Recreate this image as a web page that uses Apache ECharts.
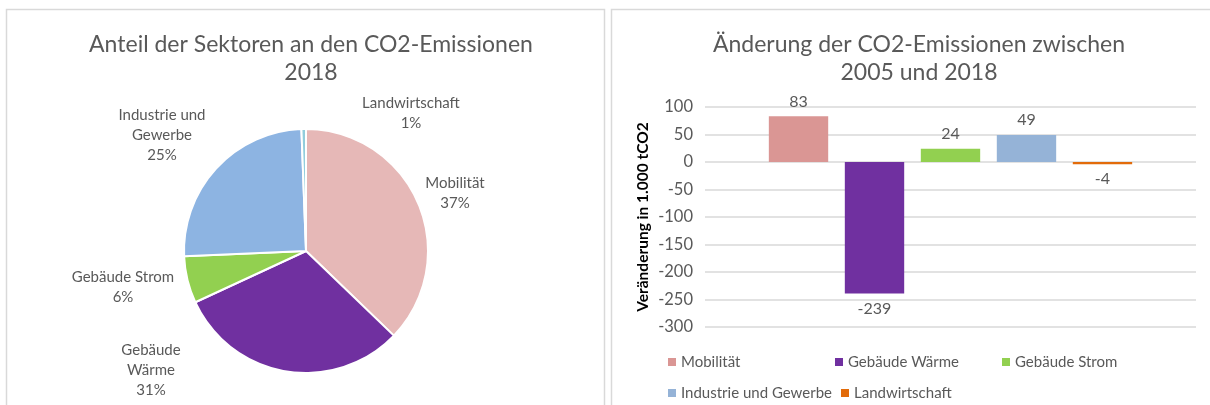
<!DOCTYPE html>
<html>
<head>
<meta charset="utf-8">
<script src="https://cdn.jsdelivr.net/npm/echarts@6/dist/echarts.min.js"></script>
<style>
  html, body { margin: 0; padding: 0; background: #fff; }
  #main { width: 1210px; height: 405px; }
</style>
</head>
<body>
<div id="main"></div>
<script>
// sectors
var sectors = ['Mobilität', 'Gebäude Wärme', 'Gebäude Strom', 'Industrie und Gewerbe', 'Landwirtschaft'];
// pie labels as wrapped in the original
var pieLabels = ['Mobilität', 'Gebäude\nWärme', 'Gebäude Strom', 'Industrie und\nGewerbe', 'Landwirtschaft'];
// share of emissions 2018 (%)
var share2018 = [37.2, 30.9, 6.2, 25.1, 0.6];
// change 2005 -> 2018 (1.000 tCO2)
var change = [83, -239, 24, 49, -4];
// y axis ticks
var yMin = -300, yMax = 100, yStep = 50;

var pieColors = ['#E6B8B7', '#7030A0', '#92D050', '#8DB4E2', '#92CDDC'];
var barColors = ['#DA9694', '#7030A0', '#92D050', '#95B3D7', '#E26B0A'];

// where Excel put the pie labels (label centers)
var pieLabelSpots = [[455, 193], [151, 370], [123, 287], [162, 135], [411, 113]];

var FONT = 'Lato, "Noto Sans", sans-serif';
var GREY = '#595959';

var myChart = echarts.init(document.getElementById('main'));

var barSeries = sectors.map(function (name, i) {
    return {
        name: name,
        type: 'bar',
        barGap: '28%',
        barCategoryGap: '26%',
        itemStyle: { color: barColors[i] },
        label: {
            show: true,
            distance: 7,
            color: GREY,
            fontFamily: FONT,
            fontSize: 16
        },
        data: [{
            value: change[i],
            label: { position: change[i] >= 0 ? 'top' : 'bottom' }
        }]
    };
});

var option = {
    animation: false,
    backgroundColor: '#fff',
    textStyle: { fontFamily: FONT },
    graphic: [
        {
            type: 'rect',
            shape: { x: 6.5, y: 9.5, width: 598, height: 420 },
            style: { fill: 'none', stroke: '#D9D9D9', lineWidth: 1.5 },
            silent: true
        },
        {
            type: 'rect',
            shape: { x: 611.5, y: 9.5, width: 620, height: 420 },
            style: { fill: 'none', stroke: '#D9D9D9', lineWidth: 1.5 },
            silent: true
        }
    ],
    title: [
        {
            text: 'Anteil der Sektoren an den CO2-Emissionen\n2018',
            left: 306,
            top: 26,
            textAlign: 'center',
            textStyle: { color: GREY, fontFamily: FONT, fontSize: 23, fontWeight: 'normal', lineHeight: 28 }
        },
        {
            text: 'Änderung der CO2-Emissionen zwischen\n2005 und 2018',
            left: 914,
            top: 26,
            textAlign: 'center',
            textStyle: { color: GREY, fontFamily: FONT, fontSize: 23, fontWeight: 'normal', lineHeight: 28 }
        }
    ],
    legend: {
        data: sectors,
        left: 668,
        top: 351,
        width: 520,
        padding: 0,
        itemWidth: 8,
        itemHeight: 8,
        itemGap: 9,
        icon: 'rect',
        textStyle: { color: GREY, fontFamily: FONT, fontSize: 15, width: 145, lineHeight: 22 }
    },
    grid: {
        left: 705,
        right: 14,
        top: 107,
        bottom: 78
    },
    xAxis: {
        type: 'category',
        data: [''],
        axisLine: { show: false },
        axisTick: { show: false },
        axisLabel: { show: false }
    },
    yAxis: {
        type: 'value',
        min: yMin,
        max: yMax,
        interval: yStep,
        name: 'Veränderung in 1.000 tCO2',
        nameLocation: 'middle',
        nameGap: 54,
        nameTextStyle: { color: '#000', fontFamily: FONT, fontSize: 15.5, fontWeight: 'bold' },
        axisLine: { show: false },
        axisTick: { show: false },
        axisLabel: { color: GREY, fontFamily: FONT, fontSize: 16.5, margin: 12 },
        splitLine: { lineStyle: { color: '#D9D9D9', width: 1.5 } }
    },
    series: barSeries.concat([{
        name: 'Anteil 2018',
        type: 'pie',
        center: [306, 251],
        radius: 122,
        startAngle: 90,
        clockwise: true,
        avoidLabelOverlap: false,
        itemStyle: { borderColor: '#fff', borderWidth: 2 },
        label: {
            show: true,
            position: 'outside',
            color: GREY,
            fontFamily: FONT,
            fontSize: 15,
            lineHeight: 20,
            align: 'center',
            formatter: function (p) {
                return pieLabels[p.dataIndex] + '\n' + Math.round(p.percent) + '%';
            }
        },
        labelLine: { show: false },
        labelLayout: function (p) {
            var spot = pieLabelSpots[p.dataIndex];
            return { x: spot[0], y: spot[1], align: 'center', verticalAlign: 'middle' };
        },
        emphasis: { disabled: true },
        data: sectors.map(function (name, i) {
            return { name: name, value: share2018[i], itemStyle: { color: pieColors[i] } };
        })
    }])
};

myChart.setOption(option);
window.onresize = myChart.resize;
</script>
</body>
</html>
